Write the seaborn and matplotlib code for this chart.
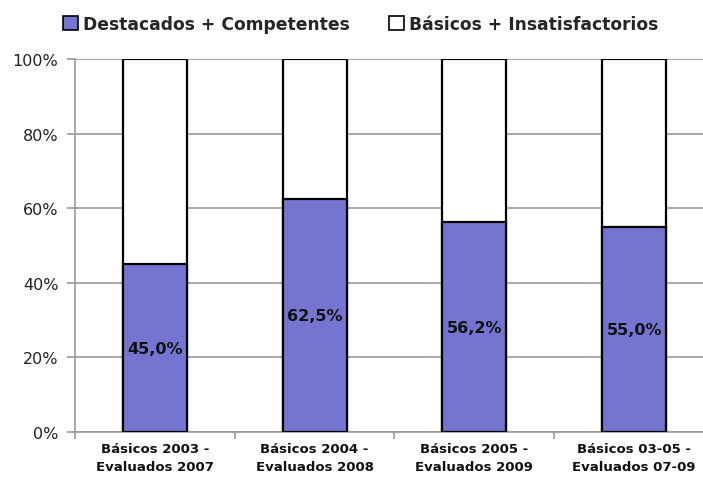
import matplotlib
matplotlib.use("Agg")
import matplotlib.pyplot as plt
from matplotlib.patches import Patch
import seaborn as sns
import pandas as pd
import numpy as np

categories = ["Básicos 2003 -\nEvaluados 2007", "Básicos 2004 -\nEvaluados 2008",
              "Básicos 2005 -\nEvaluados 2009", "Básicos 03-05 -\nEvaluados 07-09"]
destacados = [45.0, 62.5, 56.2, 55.0]
basicos = [55.0, 37.5, 43.8, 45.0]
labels = ["45,0%", "62,5%", "56,2%", "55,0%"]
series_names = ["Destacados + Competentes", "Básicos + Insatisfactorios"]
yticks = [0, 20, 40, 60, 80, 100]

sns.set_theme(style="white")
plt.rcParams['font.family'] = ['DejaVu Sans']

df = pd.DataFrame({"cat": categories, "dest": destacados, "bas": basicos})
df["total"] = df["dest"] + df["bas"]

fig = plt.figure(figsize=(7.03, 4.81), dpi=100)
ax = fig.add_axes([75/703, 48/481, 639/703, 373/481])

blue = "#7575D1"
sns.barplot(data=df, x="cat", y="total", color="white", edgecolor="black",
            linewidth=1.6, width=0.4, ax=ax, saturation=1, zorder=3)
sns.barplot(data=df, x="cat", y="dest", color=blue, edgecolor="black",
            linewidth=1.6, width=0.4, ax=ax, saturation=1, zorder=4)

for i, (v, lab) in enumerate(zip(destacados, labels)):
    ax.text(i, v / 2, lab, ha="center", va="center", fontsize=11.5,
            fontweight="bold", color="#111111", zorder=5)

ax.set_ylim(0, 100)
ax.set_xlim(-0.5, 3.5)
ax.set_yticks(yticks)
ax.set_yticklabels([f"{t}%" for t in yticks], fontsize=11.5, color="#222222")
ax.yaxis.grid(True, color="#999999", linewidth=1.2, zorder=0)
ax.set_axisbelow(True)
ax.set_xlabel("")
ax.set_ylabel("")
ax.set_xticks(range(len(categories)))
ax.set_xticklabels(categories, fontsize=9.5, fontweight="bold", color="#111111",
                   linespacing=1.5)
ax.tick_params(axis="x", length=0, pad=7)
ax.set_xticks(np.arange(-0.5, 4.0, 1.0), minor=True)
ax.tick_params(axis="x", which="minor", length=5, width=1.2, color="#999999",
               direction="out", bottom=True)
ax.tick_params(axis="y", length=6, width=1.2, color="#999999", left=True, pad=6)
for s in ["top", "right"]:
    ax.spines[s].set_visible(False)
for s in ["left", "bottom"]:
    ax.spines[s].set_color("#999999")
    ax.spines[s].set_linewidth(1.2)

handles = [Patch(facecolor=blue, edgecolor="black", linewidth=1.2),
           Patch(facecolor="white", edgecolor="black", linewidth=1.2)]
fig.legend(handles, series_names, loc="center", bbox_to_anchor=(0.513, 1 - 25/481),
           ncol=2, frameon=False, prop={"size": 12.3, "weight": "bold"},
           handlelength=0.85, handleheight=0.85, handletextpad=0.3, columnspacing=2.3)

fig.savefig("out.png", dpi=100)
